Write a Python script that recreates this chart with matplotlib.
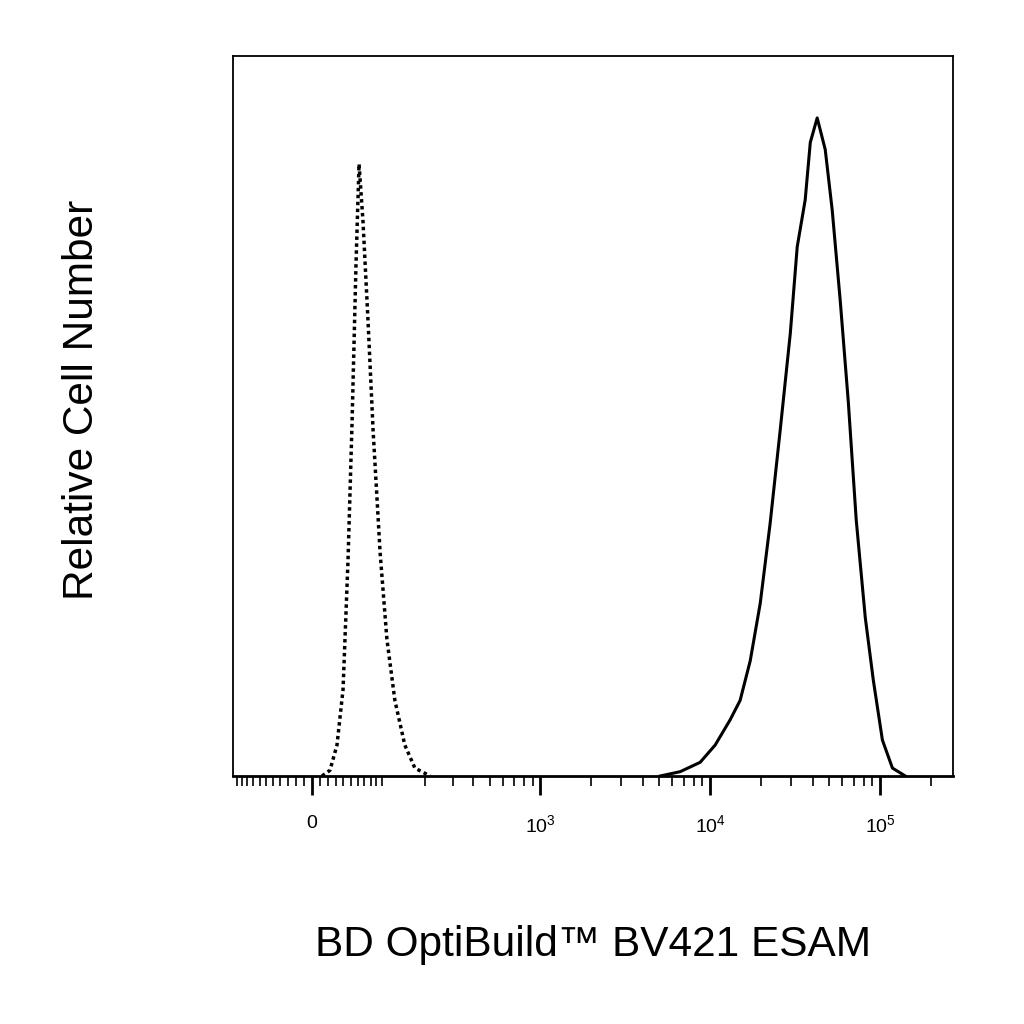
import numpy as np
import matplotlib.pyplot as plt

plt.rcParams['font.family'] = ['Liberation Sans', 'DejaVu Sans']
plt.rcParams['mathtext.fontset'] = 'custom'
plt.rcParams['mathtext.rm'] = 'Liberation Sans'

# isotype control (dotted) and stained (solid) histograms
ctrl_x = [12.4, 22.4, 31.4, 39.4, 46.2, 51.8, 57.5, 62.0, 68.0, 76.0, 84.2, 96.4, 109, 125, 147, 172, 216]
ctrl_y = [0, 0.8, 4.3, 12, 30, 49, 71, 85, 77, 63, 48, 31, 19, 10.5, 4.3, 1.1, 0]
stain_x = [5080, 6660, 8730, 10700, 13100, 15000, 17200, 19700, 22500, 25800, 29600, 32500,
           36200, 38800, 42600, 47500, 52200, 58200, 64900, 72300, 81700, 91100, 103000,
           118000, 140500]
stain_y = [0, 0.6, 1.9, 4.3, 7.8, 10.5, 16, 24, 35, 48, 61.5, 73.5, 80, 88, 91.4, 87,
           78.6, 66, 52, 35.5, 22, 13.3, 5, 1.1, 0]

W = 91.0
fwd = lambda v: np.arcsinh(np.asarray(v) / W)
inv = lambda p: W * np.sinh(np.asarray(p))

fig = plt.figure(figsize=(10.24, 10.24), dpi=100)
ax = fig.add_axes([233 / 1024, 248 / 1024, 720 / 1024, 720 / 1024])
ax.set_xscale('function', functions=(fwd, inv))

ax.plot(stain_x, stain_y, color='black', lw=2.2)
ax.plot(ctrl_x, ctrl_y, color='black', lw=2.5, linestyle=(0, (1, 1)))

ax.set_xlim(-117, 268000)
ax.set_ylim(0, 100)

major = [0, 1e3, 1e4, 1e5]
ax.set_xticks(major)
ax.set_xticklabels(['0', '10$^3$', '10$^4$', '10$^5$'], fontsize=14)
minor = list(range(-110, 101, 10))
for d in [100, 1000, 10000, 100000]:
    for m in range(2, 10):
        if d * m < 268000 and d * m > 100:
            minor.append(d * m)
ax.set_xticks(minor, minor=True)
ax.tick_params(axis='x', which='major', direction='out', length=14, width=2, pad=14)
ax.tick_params(axis='x', which='minor', direction='out', length=7, width=1.2)
ax.set_yticks([])

for s in ax.spines.values():
    s.set_linewidth(1.3)
ax.spines['bottom'].set_linewidth(2)

fig.text(593 / 1024, 1 - 945 / 1024, 'BD OptiBuild™ BV421 ESAM', fontsize=30.5,
         ha='center', va='center')
fig.text(82 / 1024, 1 - 400 / 1024, 'Relative Cell Number', fontsize=30.5,
         ha='center', va='center', rotation=90)

fig.savefig('out.png', dpi=100)
